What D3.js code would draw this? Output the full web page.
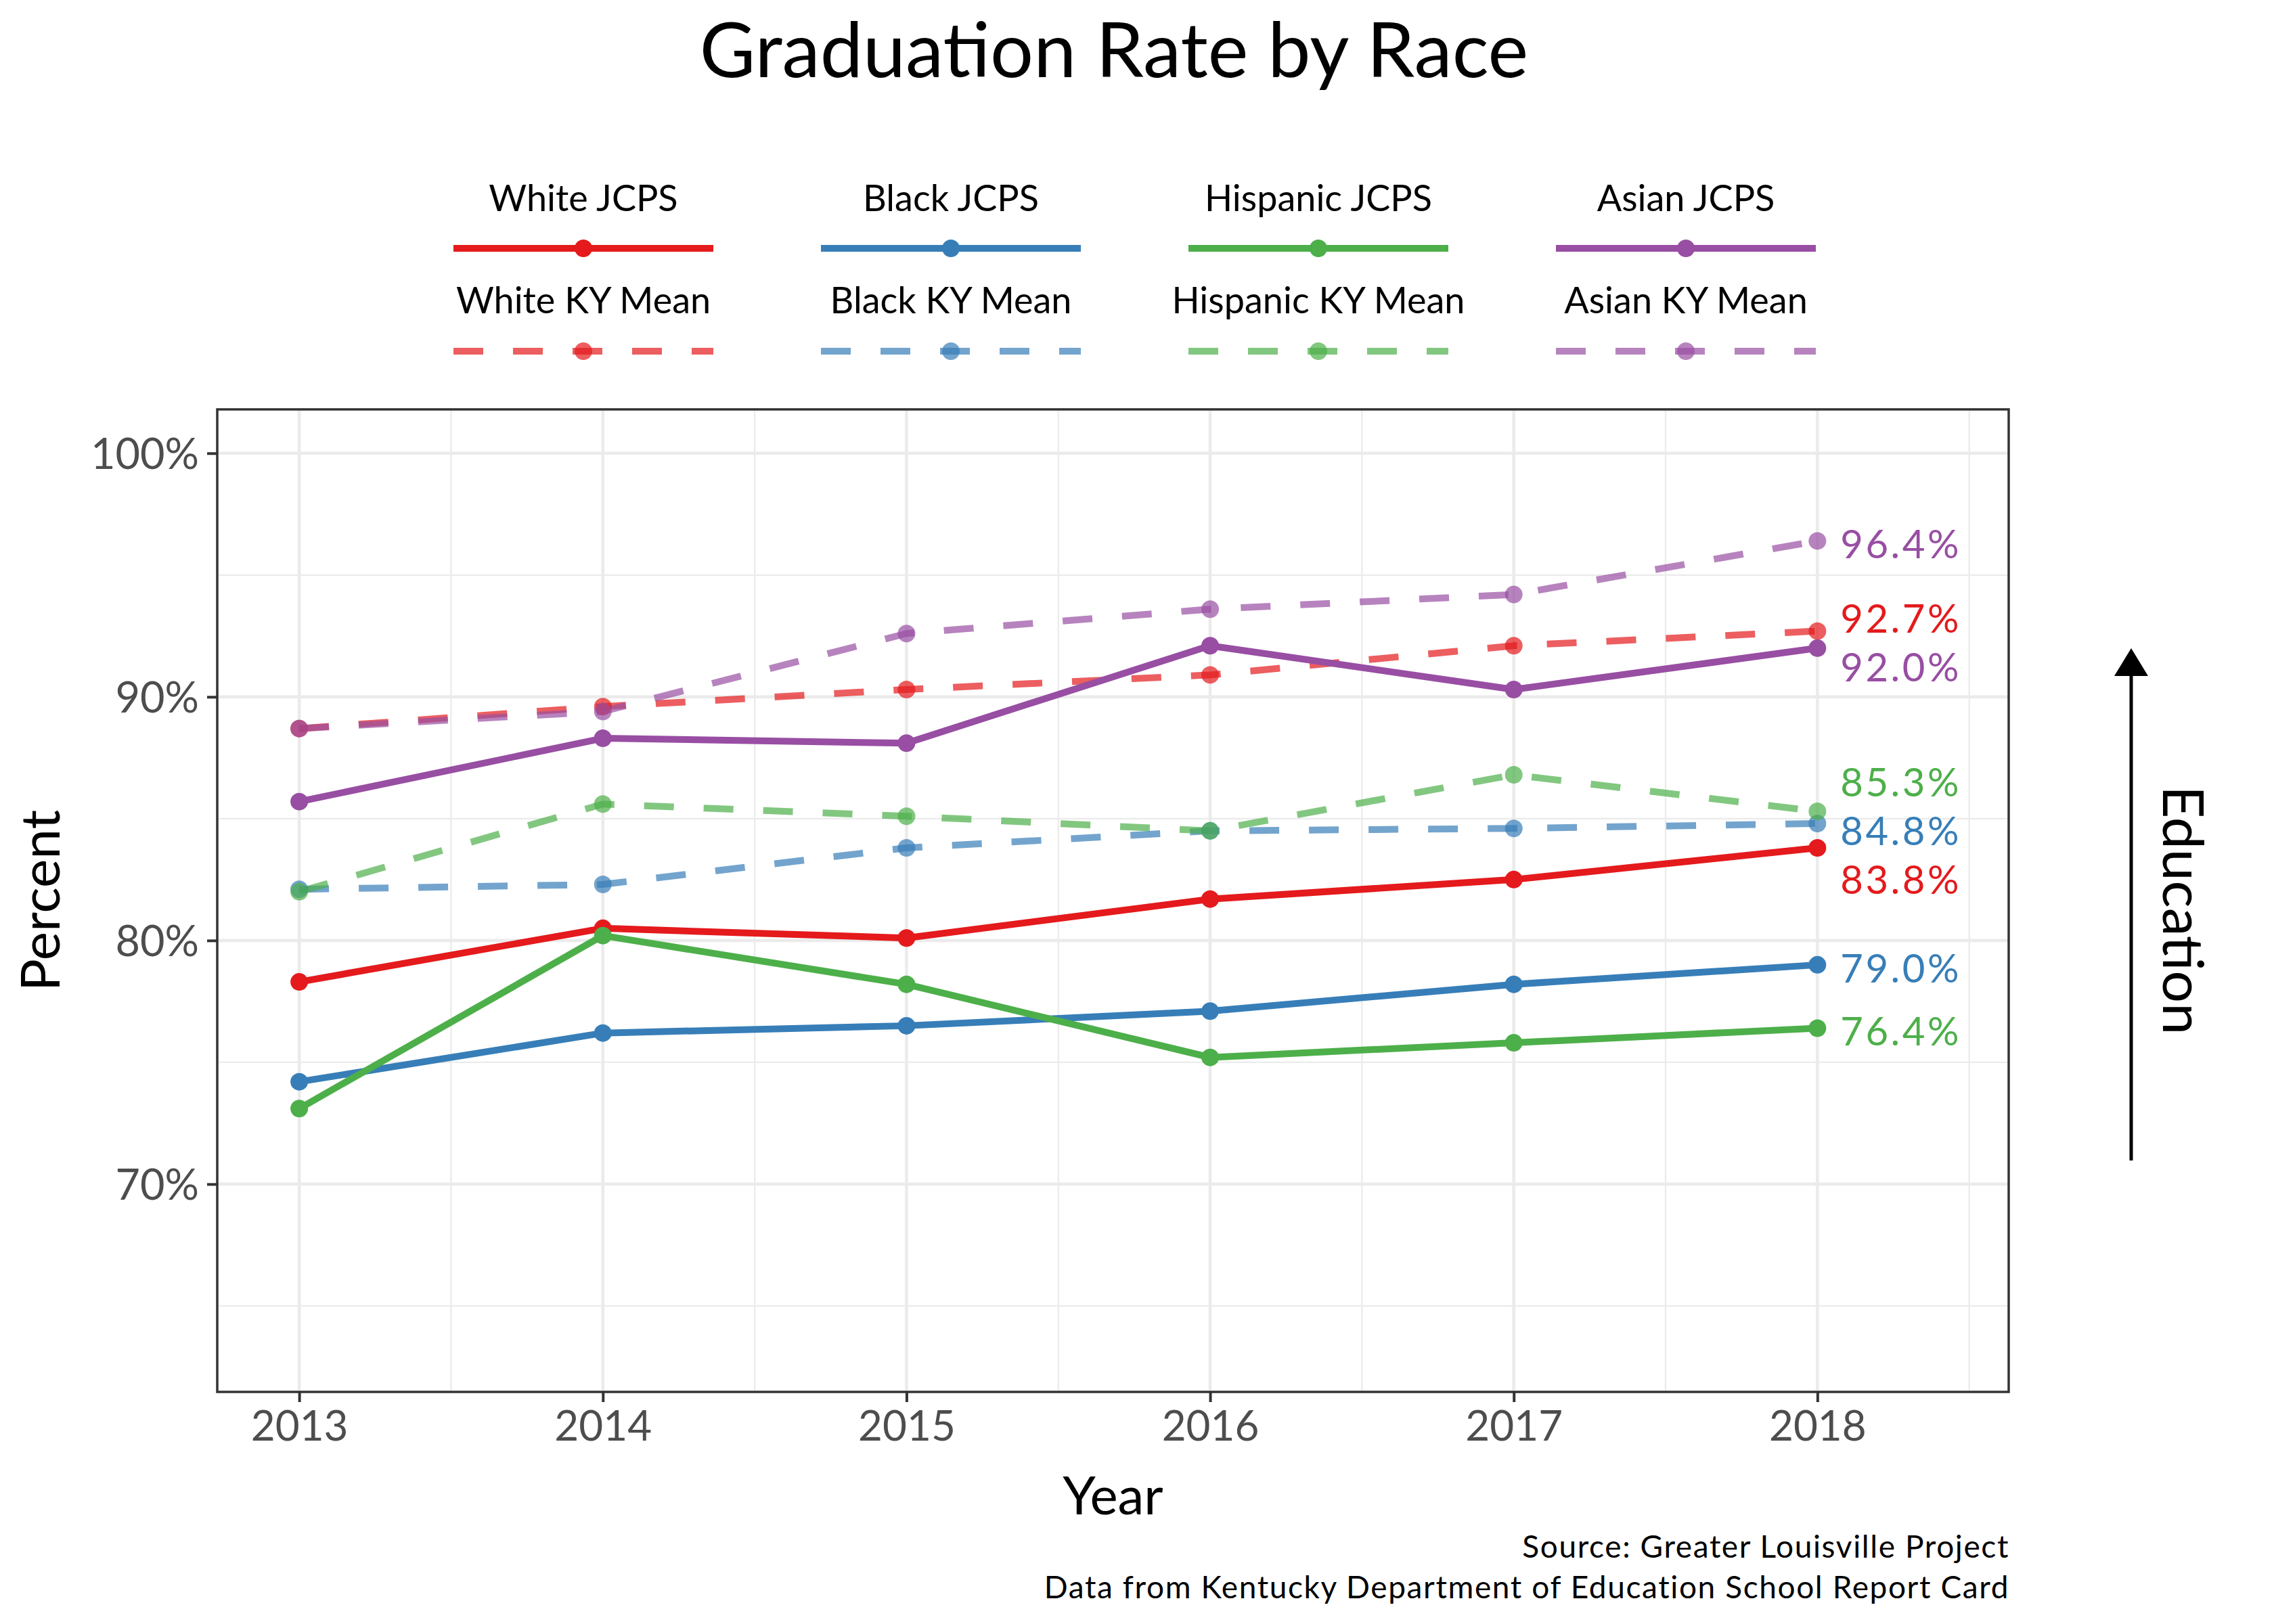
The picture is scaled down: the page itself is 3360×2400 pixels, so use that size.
<!DOCTYPE html>
<html>
<head>
<meta charset="utf-8">
<script src="https://cdn.jsdelivr.net/npm/d3@7"></script>
<style>
  html, body { margin: 0; padding: 0; background: #fff; }
  svg { display: block; }
  text { font-family: Lato, "Open Sans", sans-serif; }
</style>
</head>
<body>
<svg id="chart" width="3360" height="2400"></svg>
<script>
// ---------------- data ----------------
const years = [2013, 2014, 2015, 2016, 2017, 2018];
const seriesNames = ["White JCPS", "White KY Mean", "Black JCPS", "Black KY Mean",
                     "Hispanic JCPS", "Hispanic KY Mean", "Asian JCPS", "Asian KY Mean"];
const whiteJCPS    = [78.3, 80.5, 80.1, 81.7, 82.5, 83.8];
const whiteKY      = [88.7, 89.6, 90.3, 90.9, 92.1, 92.7];
const blackJCPS    = [74.2, 76.2, 76.5, 77.1, 78.2, 79.0];
const blackKY      = [82.1, 82.3, 83.8, 84.5, 84.6, 84.8];
const hispanicJCPS = [73.1, 80.2, 78.2, 75.2, 75.8, 76.4];
const hispanicKY   = [82.0, 85.6, 85.1, 84.5, 86.8, 85.3];
const asianJCPS    = [85.7, 88.3, 88.1, 92.1, 90.3, 92.0];
const asianKY      = [88.7, 89.4, 92.6, 93.6, 94.2, 96.4];
const yTicks = [70, 80, 90, 100];
const yTickLabels = ["70%", "80%", "90%", "100%"];
const xTickLabels = ["2013", "2014", "2015", "2016", "2017", "2018"];
const titleText = "Graduation Rate by Race";
const xTitle = "Year";
const yTitle = "Percent";
const sideLabel = "Education";
const captionLines = ["Source: Greater Louisville Project",
                      "Data from Kentucky Department of Education School Report Card"];

// ---------------- styling ----------------
const palette = ["#E41A1C", "#377EB8", "#4DAF4A", "#984EA3"];
const seriesValues = [whiteJCPS, whiteKY, blackJCPS, blackKY, hispanicJCPS, hispanicKY, asianJCPS, asianKY];
const series = seriesNames.map((name, i) => ({
  name,
  values: seriesValues[i],
  color: palette[Math.floor(i / 2)],
  dashed: i % 2 === 1
}));

const svg = d3.select("#chart");
const panel = { left: 321, right: 2968, top: 605, bottom: 2057 };

const x = d3.scaleLinear().domain([2012.73, 2018.63]).range([panel.left, panel.right]);
const y = d3.scaleLinear().domain([61.47, 101.8]).range([panel.bottom, panel.top]);

const LW = 10, R = 13, DASH = "44,44", ALPHA = 0.7;

// ---------------- grid ----------------
const grid = svg.append("g");
const minorY = [65, 75, 85, 95];
const minorX = [2013.5, 2014.5, 2015.5, 2016.5, 2017.5, 2018.5];
grid.selectAll(".gmy").data(minorY).join("line")
  .attr("x1", panel.left).attr("x2", panel.right)
  .attr("y1", d => y(d)).attr("y2", d => y(d))
  .attr("stroke", "#EBEBEB").attr("stroke-width", 2.3);
grid.selectAll(".gmx").data(minorX).join("line")
  .attr("y1", panel.top).attr("y2", panel.bottom)
  .attr("x1", d => x(d)).attr("x2", d => x(d))
  .attr("stroke", "#EBEBEB").attr("stroke-width", 2.3);
grid.selectAll(".gy").data(yTicks).join("line")
  .attr("x1", panel.left).attr("x2", panel.right)
  .attr("y1", d => y(d)).attr("y2", d => y(d))
  .attr("stroke", "#EBEBEB").attr("stroke-width", 4.6);
grid.selectAll(".gx").data(years).join("line")
  .attr("y1", panel.top).attr("y2", panel.bottom)
  .attr("x1", d => x(d)).attr("x2", d => x(d))
  .attr("stroke", "#EBEBEB").attr("stroke-width", 4.6);

// ---------------- lines & points ----------------
const line = d3.line().x((d, i) => x(years[i])).y(d => y(d));
const gl = svg.append("g");
series.forEach(s => {
  gl.append("path").datum(s.values)
    .attr("d", line)
    .attr("fill", "none")
    .attr("stroke", s.color)
    .attr("stroke-opacity", s.dashed ? ALPHA : 1)
    .attr("stroke-width", LW)
    .attr("stroke-linejoin", "round")
    .attr("stroke-dasharray", s.dashed ? DASH : null);
});
series.forEach(s => {
  gl.append("g").selectAll("circle").data(s.values).join("circle")
    .attr("cx", (d, i) => x(years[i])).attr("cy", d => y(d))
    .attr("r", R).attr("fill", s.color)
    .attr("fill-opacity", s.dashed ? ALPHA : 1);
});

// ---------------- panel border ----------------
svg.append("rect")
  .attr("x", panel.left).attr("y", panel.top)
  .attr("width", panel.right - panel.left).attr("height", panel.bottom - panel.top)
  .attr("fill", "none").attr("stroke", "#333333").attr("stroke-width", 3.5);

// ---------------- axes ----------------
const yAxis = d3.axisLeft(y).tickValues(yTicks).tickFormat((d, i) => yTickLabels[i])
  .tickSize(15).tickPadding(12);
const gy = svg.append("g").attr("transform", `translate(${panel.left},0)`).call(yAxis);
gy.select(".domain").remove();
gy.selectAll(".tick line").attr("stroke", "#333333").attr("stroke-width", 4);
gy.selectAll(".tick text").attr("fill", "#4D4D4D").attr("font-size", 63)
  .attr("font-family", "Lato, sans-serif").attr("dy", "0.36em");

const xAxis = d3.axisBottom(x).tickValues(years).tickFormat((d, i) => xTickLabels[i])
  .tickSize(15).tickPadding(12);
const gx = svg.append("g").attr("transform", `translate(0,${panel.bottom})`).call(xAxis);
gx.select(".domain").remove();
gx.selectAll(".tick line").attr("stroke", "#333333").attr("stroke-width", 4);
gx.selectAll(".tick text").attr("fill", "#4D4D4D").attr("font-size", 62)
  .attr("font-family", "Lato, sans-serif").attr("dy", "0.72em");

// ---------------- end labels (simple repel) ----------------
const labels = series.map(s => {
  const v = s.values[s.values.length - 1];
  return { v, color: s.color, y0: y(v), y: y(v) };
}).sort((a, b) => a.y0 - b.y0);
const GAP = 72;
for (let it = 0; it < 500; it++) {
  for (let i = 1; i < labels.length; i++) {
    const d = labels[i].y - labels[i - 1].y;
    if (d < GAP) {
      const p = (GAP - d) / 2;
      labels[i].y += p; labels[i - 1].y -= p;
    }
  }
}
svg.append("g").selectAll("text").data(labels).join("text")
  .attr("x", x(2018) + 34)
  .attr("y", d => d.y + 5)
  .attr("dy", "0.36em")
  .attr("fill", d => d.color)
  .attr("font-size", 58)
  .attr("letter-spacing", 3.5)
  .text(d => d3.format(".1f")(d.v) + "%");

// ---------------- titles ----------------
svg.append("text").attr("x", 1646).attr("y", 114).attr("text-anchor", "middle")
  .attr("font-size", 113).attr("fill", "#000").text(titleText);
svg.append("text").attr("x", (panel.left + panel.right) / 2).attr("y", 2238)
  .attr("text-anchor", "middle").attr("font-size", 78).attr("fill", "#000").text(xTitle);
svg.append("text").attr("transform", `translate(88,${(panel.top + panel.bottom) / 2}) rotate(-90)`)
  .attr("text-anchor", "middle").attr("font-size", 80).attr("fill", "#000").text(yTitle);

const cap = svg.append("g");
cap.append("text").attr("x", 2969).attr("y", 2302).attr("text-anchor", "end")
  .attr("font-size", 46).attr("letter-spacing", 1.6).attr("fill", "#000").text(captionLines[0]);
cap.append("text").attr("x", 2969).attr("y", 2362).attr("text-anchor", "end")
  .attr("font-size", 46).attr("letter-spacing", 1.6).attr("fill", "#000").text(captionLines[1]);

// ---------------- education arrow ----------------
const ag = svg.append("g");
ag.append("line").attr("x1", 3149).attr("x2", 3149).attr("y1", 1715).attr("y2", 995)
  .attr("stroke", "#000").attr("stroke-width", 5);
ag.append("path").attr("d", "M3149,958 L3174,999 L3124,999 Z").attr("fill", "#000");
ag.append("text").attr("transform", "translate(3196,1345) rotate(90)")
  .attr("text-anchor", "middle").attr("font-size", 84).attr("fill", "#000").text(sideLabel);

// ---------------- legend ----------------
const legend = svg.append("g");
const colCenters = [862, 1405, 1948, 2491];
const keyHalf = 192;
series.forEach((s, i) => {
  const col = Math.floor(i / 2), row = i % 2;
  const cx = colCenters[col];
  const labelY = row === 0 ? 312 : 463;
  const keyY = row === 0 ? 367 : 519;
  legend.append("text").attr("x", cx).attr("y", labelY).attr("text-anchor", "middle")
    .attr("font-size", 54).attr("fill", "#000").text(s.name);
  legend.append("line").attr("x1", cx - keyHalf).attr("x2", cx + keyHalf)
    .attr("y1", keyY).attr("y2", keyY)
    .attr("stroke", s.color).attr("stroke-opacity", s.dashed ? ALPHA : 1)
    .attr("stroke-width", 10).attr("stroke-dasharray", s.dashed ? DASH : null);
  legend.append("circle").attr("cx", cx).attr("cy", keyY).attr("r", R)
    .attr("fill", s.color).attr("fill-opacity", s.dashed ? ALPHA : 1);
});
</script>
</body>
</html>
